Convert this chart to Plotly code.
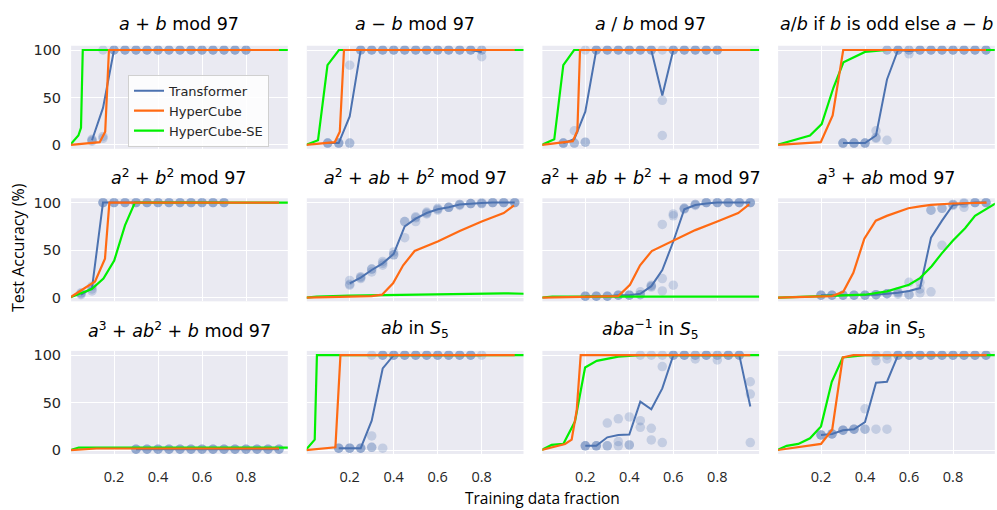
import plotly.graph_objects as go

W, H = 997, 510

TITLES = [
    "<i>a</i> + <i>b</i> mod 97",
    "<i>a</i> − <i>b</i> mod 97",
    "<i>a</i> / <i>b</i> mod 97",
    "<i>a</i>/<i>b</i> if <i>b</i> is odd else <i>a</i> − <i>b</i>",
    "<i>a</i><sup>2</sup> + <i>b</i><sup>2</sup> mod 97",
    "<i>a</i><sup>2</sup> + <i>ab</i> + <i>b</i><sup>2</sup> mod 97",
    "<i>a</i><sup>2</sup> + <i>ab</i> + <i>b</i><sup>2</sup> + <i>a</i> mod 97",
    "<i>a</i><sup>3</sup> + <i>ab</i> mod 97",
    "<i>a</i><sup>3</sup> + <i>ab</i><sup>2</sup> + <i>b</i> mod 97",
    "<i>ab</i> in <i>S</i><sub>5</sub>",
    "<i>aba</i><sup>−1</sup> in <i>S</i><sub>5</sub>",
    "<i>aba</i> in <i>S</i><sub>5</sub>",
]

X_TICKS = [0.2, 0.4, 0.6, 0.8]
Y_TICKS = [0, 50, 100]
X_TITLE = "Training data fraction"
Y_TITLE = "Test Accuracy (%)"
SERIES_NAMES = ["Transformer", "HyperCube", "HyperCube-SE"]

# ---------------- Panel 1: a + b mod 97
P1_TF_X = [0.10, 0.15, 0.20, 0.25, 0.30, 0.35, 0.40, 0.45, 0.50, 0.55, 0.60, 0.65, 0.70, 0.75, 0.80]
P1_TF_MEAN = [5, 39, 100, 100, 100, 100, 100, 100, 100, 100, 100, 100, 100, 100, 100]
P1_TF_RUNS = [[4, 6, 5], [7, 9, 100], [100, 100, 100], [100, 100, 100], [100, 100, 100],
              [100, 100, 100], [100, 100, 100], [100, 100, 100], [100, 100, 100], [100, 100, 100],
              [100, 100, 100], [100, 100, 100], [100, 100, 100], [100, 100, 100], [100, 100, 100]]
P1_HC_X = [0, 0.135, 0.16, 0.177, 0.95]
P1_HC_Y = [0, 3, 14, 100, 100]
P1_SE_X = [0, 0.038, 0.05, 0.058, 1.0]
P1_SE_Y = [0, 10, 18, 100, 100]

# ---------------- Panel 2: a - b mod 97
P2_TF_X = [0.10, 0.15, 0.20, 0.25, 0.30, 0.35, 0.40, 0.45, 0.50, 0.55, 0.60, 0.65, 0.70, 0.75, 0.80]
P2_TF_MEAN = [2, 2, 30, 100, 100, 100, 100, 100, 100, 100, 100, 100, 100, 100, 98]
P2_TF_RUNS = [[2, 2, 2], [2, 2, 2], [84, 2, 2], [100, 100, 100], [100, 100, 100],
              [100, 100, 100], [100, 100, 100], [100, 100, 100], [100, 100, 100], [100, 100, 100],
              [100, 100, 100], [100, 100, 100], [100, 100, 100], [100, 100, 100], [100, 100, 93]]
P2_HC_X = [0, 0.132, 0.155, 0.174, 0.95]
P2_HC_Y = [0, 3, 14, 100, 100]
P2_SE_X = [0, 0.056, 0.099, 0.151, 1.0]
P2_SE_Y = [0, 5, 84, 100, 100]

# ---------------- Panel 3: a / b mod 97
P3_TF_X = [0.10, 0.15, 0.20, 0.25, 0.30, 0.35, 0.40, 0.45, 0.50, 0.55, 0.60, 0.65, 0.70, 0.75, 0.80]
P3_TF_MEAN = [2, 6, 35, 100, 100, 100, 100, 100, 100, 52, 100, 100, 100, 100, 100]
P3_TF_RUNS = [[2, 2, 2], [2, 2, 15], [3, 3, 100], [100, 100, 100], [100, 100, 100],
              [100, 100, 100], [100, 100, 100], [100, 100, 100], [100, 100, 100], [47, 10, 100],
              [100, 100, 100], [100, 100, 100], [100, 100, 100], [100, 100, 100], [100, 100, 100]]
P3_HC_X = [0, 0.143, 0.164, 0.176, 0.95]
P3_HC_Y = [0, 4, 15, 100, 100]
P3_SE_X = [0, 0.059, 0.10, 0.149, 1.0]
P3_SE_Y = [0, 6, 84, 100, 100]

# ---------------- Panel 4: a/b if b odd else a-b
P4_TF_X = [0.30, 0.35, 0.40, 0.45, 0.50, 0.55, 0.60, 0.65, 0.70, 0.75, 0.80, 0.85, 0.90, 0.95]
P4_TF_MEAN = [2, 2, 2, 10, 69, 100, 99, 100, 100, 100, 100, 100, 100, 100]
P4_TF_RUNS = [[2, 2, 2], [2, 2, 2], [2, 2, 2], [15, 8, 7], [5, 100, 100], [100, 100, 100],
              [100, 100, 96], [100, 100, 100], [100, 100, 100], [100, 100, 100], [100, 100, 100],
              [100, 100, 100], [100, 100, 100], [100, 100, 100]]
P4_HC_X = [0, 0.199, 0.253, 0.301, 0.95]
P4_HC_Y = [0, 3, 31, 100, 100]
P4_SE_X = [0, 0.059, 0.15, 0.203, 0.256, 0.302, 0.40, 0.50, 1.0]
P4_SE_Y = [0, 4, 10, 22, 60, 87, 98, 100, 100]

# ---------------- Panel 5: a^2 + b^2 mod 97
P5_TF_X = [0.05, 0.10, 0.15, 0.20, 0.25, 0.30, 0.35, 0.40, 0.45, 0.50, 0.55, 0.60, 0.65, 0.70]
P5_TF_MEAN = [3, 10, 100, 100, 100, 100, 100, 100, 100, 100, 100, 100, 100, 100]
P5_TF_RUNS = [[5, 3, 4], [7, 9, 12], [100, 100, 100], [100, 100, 100], [100, 100, 100],
              [100, 100, 100], [100, 100, 100], [100, 100, 100], [100, 100, 100], [100, 100, 100],
              [100, 100, 100], [100, 100, 100], [100, 100, 100], [100, 100, 100]]
P5_HC_X = [0, 0.114, 0.159, 0.179, 0.95]
P5_HC_Y = [0, 17, 41, 100, 100]
P5_SE_X = [0, 0.099, 0.152, 0.201, 0.25, 0.295, 1.0]
P5_SE_Y = [0, 9, 20, 39, 76, 100, 100]

# ---------------- Panel 6: a^2 + ab + b^2 mod 97
P6_TF_X = [0.20, 0.25, 0.30, 0.35, 0.40, 0.45, 0.50, 0.55, 0.60, 0.65, 0.70, 0.75, 0.80, 0.85, 0.90, 0.95]
P6_TF_MEAN = [15, 21, 29, 36, 46, 75, 83, 89, 93, 95, 98, 99, 99.5, 100, 100, 100]
P6_TF_RUNS = [[18, 13, 14], [20, 22, 21], [30, 27, 30], [36, 34, 38], [48, 45, 45], [80, 80, 63],
              [85, 80, 84], [89, 88, 90], [93, 92, 94], [95, 95, 95], [98, 97, 98], [99, 99, 99],
              [100, 99, 99], [100, 100, 100], [100, 100, 100], [100, 100, 100]]
P6_HC_X = [0, 0.30, 0.347, 0.397, 0.443, 0.495, 0.60, 0.70, 0.80, 0.90, 0.947]
P6_HC_Y = [0, 1.5, 3, 15, 34, 49, 59, 70, 80, 89, 97]
P6_SE_X = [0, 0.05, 0.20, 0.50, 0.90, 1.0]
P6_SE_Y = [0, 1, 2, 3, 4.5, 4]

# ---------------- Panel 7: a^2 + ab + b^2 + a mod 97
P7_TF_X = [0.20, 0.25, 0.30, 0.35, 0.40, 0.45, 0.50, 0.55, 0.60, 0.65, 0.70, 0.75, 0.80, 0.85, 0.90, 0.95]
P7_TF_MEAN = [1.5, 1.5, 1.5, 2.5, 2.5, 4, 12, 29, 59, 93, 97.5, 99, 100, 100, 100, 100]
P7_TF_RUNS = [[1.5, 1.5, 1.5], [1.5, 1.5, 1.5], [1.5, 1.5, 1.5], [2.5, 2.5, 2.5], [2.5, 2.5, 2.5],
              [6, 3, 3], [13, 12, 11], [77, 20, 7], [88, 86, 13], [94, 93, 94], [97, 98, 98],
              [100, 100, 100], [100, 100, 100], [100, 100, 100], [100, 100, 100], [100, 100, 100]]
P7_HC_X = [0, 0.35, 0.403, 0.449, 0.502, 0.60, 0.70, 0.80, 0.895, 0.945]
P7_HC_Y = [0, 1.5, 13.5, 34, 49, 60, 71, 80, 89, 98]
P7_SE_X = [0, 0.05, 1.0]
P7_SE_Y = [0, 1, 1]

# ---------------- Panel 8: a^3 + ab mod 97
P8_TF_X = [0.20, 0.25, 0.30, 0.35, 0.40, 0.45, 0.50, 0.55, 0.60, 0.65, 0.70, 0.75, 0.80, 0.85, 0.90, 0.95]
P8_TF_MEAN = [2.5, 2.5, 2.5, 2.5, 2.5, 3, 4, 5, 7, 10, 63, 81, 97.5, 99, 100, 100]
P8_TF_RUNS = [[2.5, 2.5, 2.5], [2.5, 2.5, 2.5], [2.5, 2.5, 2.5], [2.5, 2.5, 2.5], [2.5, 2.5, 2.5],
              [3, 3, 3], [4, 4, 4], [5, 3.5, 6], [16, 3, 3], [16, 5, 9], [6, 92, 92], [94, 94, 55],
              [98, 97, 98], [99, 100, 95], [100, 100, 100], [100, 100, 100]]
P8_HC_X = [0, 0.25, 0.301, 0.347, 0.397, 0.449, 0.499, 0.55, 0.597, 0.65, 0.70, 0.80, 0.953]
P8_HC_Y = [0, 1.5, 6, 26, 62, 81, 86, 90, 94, 96, 97.5, 99, 100]
P8_SE_X = [0, 0.25, 0.40, 0.50, 0.60, 0.65, 0.703, 0.749, 0.80, 0.855, 0.90, 1.0]
P8_SE_Y = [0, 1.5, 3, 6.5, 13.5, 20.5, 33, 46.5, 60, 73, 86, 100]

# ---------------- Panel 9: a^3 + ab^2 + b mod 97
P9_TF_X = [0.30, 0.35, 0.40, 0.45, 0.50, 0.55, 0.60, 0.65, 0.70, 0.75, 0.80, 0.85, 0.90, 0.95]
P9_TF_MEAN = [1, 1, 1, 1, 1, 1, 1, 1, 1, 1, 1, 1, 1, 1]
P9_TF_RUNS = [[1, 1, 1], [1, 1, 1], [1, 1, 1], [1, 1, 1], [1, 1, 1], [1, 1, 1], [1, 1, 1],
              [1, 1, 1], [1, 1, 1], [1, 1, 1], [1, 1, 1], [1, 1, 1], [1, 1, 1], [1, 1, 1]]
P9_HC_X = [0, 0.12, 0.95]
P9_HC_Y = [0, 1.7, 1.7]
P9_SE_X = [0, 0.04, 1.0]
P9_SE_Y = [0, 2.7, 2.7]

# ---------------- Panel 10: ab in S5
P10_TF_X = [0.15, 0.20, 0.25, 0.30, 0.35, 0.40, 0.45, 0.50, 0.55, 0.60, 0.65, 0.70, 0.75, 0.80]
P10_TF_MEAN = [2, 2, 2, 31, 86, 100, 100, 100, 100, 100, 100, 100, 100, 100]
P10_TF_RUNS = [[2, 2, 2], [2, 2, 2], [2, 2, 2], [3, 15, 100, 3], [100, 100, 100, 2],
               [100, 100, 100], [100, 100, 100], [100, 100, 100], [100, 100, 100], [100, 100, 100],
               [100, 100, 100], [100, 100, 100], [100, 100, 100], [100]]
P10_HC_X = [0, 0.135, 0.158, 0.95]
P10_HC_Y = [0, 3, 100, 100]
P10_SE_X = [0, 0.041, 0.051, 1.0]
P10_SE_Y = [0, 11, 100, 100]

# ---------------- Panel 11: aba^-1 in S5
P11_TF_X = [0.20, 0.25, 0.30, 0.35, 0.40, 0.45, 0.50, 0.55, 0.60, 0.65, 0.70, 0.75, 0.80, 0.85, 0.90, 0.95]
P11_TF_MEAN = [4.5, 4.5, 13.5, 16, 16.5, 51, 43, 65, 100, 100, 100, 100, 100, 100, 100, 46]
P11_TF_RUNS = [[4.5, 4.5, 4.5], [4.5, 4.5, 4.5], [4.5, 28.5, 4.5], [4.5, 9, 33], [5.5, 35, 5.5],
               [31, 24, 100], [23, 10.7, 100], [8, 88, 100], [100, 100, 100], [100, 100, 100],
               [100, 100, 96], [100, 100, 100], [100, 100, 95], [100, 100, 100], [100, 100, 100],
               [72, 59, 8]]
P11_HC_X = [0, 0.108, 0.138, 0.161, 0.179, 0.95]
P11_HC_Y = [0, 6.5, 11, 42, 100, 100]
P11_SE_X = [0, 0.047, 0.10, 0.153, 0.199, 0.252, 0.35, 0.449, 1.0]
P11_SE_Y = [0, 5.5, 6.5, 30, 87, 94, 98.5, 100, 100]

# ---------------- Panel 12: aba in S5
P12_TF_X = [0.20, 0.25, 0.30, 0.35, 0.40, 0.45, 0.50, 0.55, 0.60, 0.65, 0.70, 0.75, 0.80, 0.85, 0.90, 0.95]
P12_TF_MEAN = [16, 17, 21, 22, 29.5, 71, 72, 100, 100, 100, 100, 100, 100, 100, 100, 100]
P12_TF_RUNS = [[16, 16, 16], [17, 17, 17], [21, 21, 21], [22, 22, 22], [22, 43.5, 22], [94, 22, 100],
               [96, 22, 100], [100, 100, 100], [100, 100, 100], [100, 100, 100], [100, 100, 100],
               [100, 100, 100], [100, 100, 100], [100, 100, 100], [100, 100, 100], [100, 100, 100]]
P12_HC_X = [0, 0.20, 0.251, 0.299, 0.347, 0.953]
P12_HC_Y = [0, 6.5, 21.7, 97.5, 100, 100]
P12_SE_X = [0, 0.044, 0.097, 0.15, 0.20, 0.249, 0.299, 0.40, 1.0]
P12_SE_Y = [0, 4.5, 6.5, 12.5, 25, 72, 97.5, 100, 100]

PANELS = [
    (P1_TF_X, P1_TF_MEAN, P1_TF_RUNS, P1_HC_X, P1_HC_Y, P1_SE_X, P1_SE_Y),
    (P2_TF_X, P2_TF_MEAN, P2_TF_RUNS, P2_HC_X, P2_HC_Y, P2_SE_X, P2_SE_Y),
    (P3_TF_X, P3_TF_MEAN, P3_TF_RUNS, P3_HC_X, P3_HC_Y, P3_SE_X, P3_SE_Y),
    (P4_TF_X, P4_TF_MEAN, P4_TF_RUNS, P4_HC_X, P4_HC_Y, P4_SE_X, P4_SE_Y),
    (P5_TF_X, P5_TF_MEAN, P5_TF_RUNS, P5_HC_X, P5_HC_Y, P5_SE_X, P5_SE_Y),
    (P6_TF_X, P6_TF_MEAN, P6_TF_RUNS, P6_HC_X, P6_HC_Y, P6_SE_X, P6_SE_Y),
    (P7_TF_X, P7_TF_MEAN, P7_TF_RUNS, P7_HC_X, P7_HC_Y, P7_SE_X, P7_SE_Y),
    (P8_TF_X, P8_TF_MEAN, P8_TF_RUNS, P8_HC_X, P8_HC_Y, P8_SE_X, P8_SE_Y),
    (P9_TF_X, P9_TF_MEAN, P9_TF_RUNS, P9_HC_X, P9_HC_Y, P9_SE_X, P9_SE_Y),
    (P10_TF_X, P10_TF_MEAN, P10_TF_RUNS, P10_HC_X, P10_HC_Y, P10_SE_X, P10_SE_Y),
    (P11_TF_X, P11_TF_MEAN, P11_TF_RUNS, P11_HC_X, P11_HC_Y, P11_SE_X, P11_SE_Y),
    (P12_TF_X, P12_TF_MEAN, P12_TF_RUNS, P12_HC_X, P12_HC_Y, P12_SE_X, P12_SE_Y),
]

# ---------------- styling / layout
C_TF = "#4C72B0"
C_HC = "#FF6A13"
C_SE = "#00F000"
BG = "#EAEAF2"
TXT = "#262626"
SANS = "DejaVu Sans"
HUM = "Open Sans"

X_RANGE = [0.005, 0.99]
Y_RANGE = [-4, 104.5]
COL_X0 = [70, 305.7, 541.3, 777]      # pixel of x=0 in each column
PX_PER_X = 220
ROW_TOP = [42.4, 197.4, 352.4]
ROW_H = 104.7

fig = go.Figure()
layout_axes = {}
annotations = []

for i, (tx, tm, truns, hx, hy, sx, sy) in enumerate(PANELS):
    r, c = divmod(i, 4)
    n = i + 1
    xa = "x" if n == 1 else f"x{n}"
    ya = "y" if n == 1 else f"y{n}"
    x_left = COL_X0[c] + X_RANGE[0] * PX_PER_X
    x_right = COL_X0[c] + X_RANGE[1] * PX_PER_X
    y_top = ROW_TOP[r]
    y_bot = y_top + ROW_H
    dx = [x_left / W, x_right / W]
    dy = [1 - y_bot / H, 1 - y_top / H]

    # individual runs
    px, py = [], []
    for xv, vals in zip(tx, truns):
        for v in vals:
            px.append(xv)
            py.append(v)
    fig.add_trace(go.Scatter(x=px, y=py, mode="markers", xaxis=xa, yaxis=ya,
                             marker=dict(size=9.5, color=C_TF, opacity=0.24, line=dict(width=0)),
                             showlegend=False, hoverinfo="skip"))
    first = (i == 0)
    fig.add_trace(go.Scatter(x=tx, y=tm, mode="lines", xaxis=xa, yaxis=ya, name=SERIES_NAMES[0],
                             line=dict(color=C_TF, width=2), showlegend=first, legendgroup="tf",
                             legendrank=1))
    fig.add_trace(go.Scatter(x=sx, y=sy, mode="lines", xaxis=xa, yaxis=ya, name=SERIES_NAMES[2],
                             line=dict(color=C_SE, width=2.2), showlegend=first, legendgroup="se",
                             legendrank=3))
    fig.add_trace(go.Scatter(x=hx, y=hy, mode="lines", xaxis=xa, yaxis=ya, name=SERIES_NAMES[1],
                             line=dict(color=C_HC, width=2.2), showlegend=first, legendgroup="hc",
                             legendrank=2))

    kx = "xaxis" if n == 1 else f"xaxis{n}"
    ky = "yaxis" if n == 1 else f"yaxis{n}"
    layout_axes[kx] = dict(domain=dx, anchor=ya, range=X_RANGE, tickvals=X_TICKS,
                           ticktext=[f"{v:.1f}" for v in X_TICKS],
                           showticklabels=(r == 2), showgrid=True, gridcolor="white", gridwidth=1.4,
                           zeroline=False, showline=False, ticks="", ticklabelstandoff=13,
                           tickfont=dict(family=HUM, size=14.5, color=TXT), fixedrange=True)
    layout_axes[ky] = dict(domain=dy, anchor=xa, range=Y_RANGE, tickvals=Y_TICKS,
                           showticklabels=(c == 0), showgrid=True, gridcolor="white", gridwidth=1.4,
                           zeroline=False, showline=False, ticks="", ticklabelstandoff=9,
                           tickfont=dict(family=SANS, size=14.5, color=TXT), fixedrange=True)

    title_y_px = [20, 176, 331][r]
    annotations.append(dict(text=TITLES[i], x=(dx[0] + dx[1]) / 2, y=1 - title_y_px / H,
                            xref="paper", yref="paper", xanchor="center", yanchor="middle",
                            showarrow=False, font=dict(family=SANS, size=17.5, color="black")))

annotations.append(dict(text=X_TITLE, x=542 / W, y=1 - 502 / H, xref="paper", yref="paper",
                        xanchor="center", yanchor="middle", showarrow=False,
                        font=dict(family=HUM, size=15.5, color="black")))
annotations.append(dict(text=Y_TITLE, x=18 / W, y=1 - 248 / H, xref="paper", yref="paper",
                        xanchor="center", yanchor="middle", showarrow=False, textangle=-90,
                        font=dict(family=HUM, size=16, color="black")))

fig.update_layout(
    width=W, height=H,
    margin=dict(l=0, r=0, t=0, b=0),
    paper_bgcolor="white", plot_bgcolor=BG,
    annotations=annotations,
    legend=dict(x=128 / W, y=1 - 72 / H, xanchor="left", yanchor="top",
                bgcolor="rgba(255,255,255,0.85)", bordercolor="#D0D0D0", borderwidth=1,
                font=dict(family=SANS, size=13, color=TXT), tracegroupgap=0,
                itemwidth=30),
    **layout_axes,
)

fig.write_html("out.html")
